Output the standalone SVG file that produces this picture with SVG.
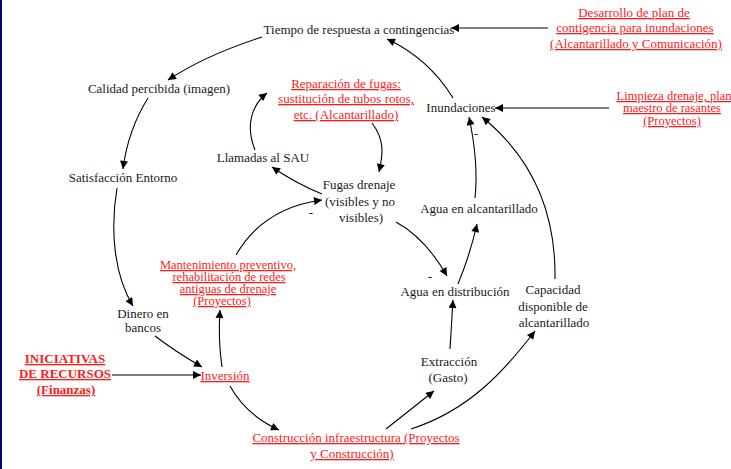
<svg xmlns="http://www.w3.org/2000/svg" width="731" height="469" viewBox="0 0 731 469">
<style>
text{font-family:"Liberation Serif","Times New Roman","DejaVu Serif",serif;font-size:13px;fill:#1a1a1a;text-anchor:middle}
.r{fill:#ff1a1a;text-decoration:underline}
.b{font-weight:bold}
.t{font-size:12.5px}
.c path{fill:none;stroke:#000;stroke-width:1.1;marker-end:url(#ah)}
</style>
<defs>
<marker id="ah" viewBox="0 0 10 10" refX="10" refY="5" markerWidth="12" markerHeight="8" markerUnits="userSpaceOnUse" orient="auto">
<path d="M0,0 L10,5 L0,10 z" fill="#000"/>
</marker>
</defs>
<rect x="0" y="0" width="731" height="469" fill="#fff"/>
<rect x="0" y="0" width="2" height="469" fill="#000080"/>
<g class="c">
<path d="M548,28 L451,28"/>
<path d="M262,37 C228,48 195,62 168,80"/>
<path d="M148,98 Q128,130 123,169"/>
<path d="M117,188 C110,230 114,275 133,306"/>
<path d="M155,336 Q176,352 202,367"/>
<path d="M112,375 L201,375"/>
<path d="M222,367 Q218,340 220,310"/>
<path d="M230,386 Q246,415 279,430"/>
<path d="M236,255 C255,222 285,205 322,200"/>
<path d="M322,194 Q295,183 272,167"/>
<path d="M255,150 C245,125 252,105 267,93"/>
<path d="M372,123 C385,140 383,155 379,172"/>
<path d="M396,222 C420,235 435,255 447,276"/>
<path d="M458,284 Q470,255 477,224"/>
<path d="M475,198 C478,170 475,145 469,117"/>
<path d="M609,108 L495,108"/>
<path d="M555,279 C556,215 535,160 482,117"/>
<path d="M453,98 C437,72 415,52 387,39"/>
<path d="M450,349 L453,300"/>
<path d="M386,429 Q410,410 434,391"/>
<path d="M411,429 C470,410 505,370 535,331"/>
</g>
<g id="n-tiempo"><text x="359" y="34">Tiempo de respuesta a contingencias</text></g>
<g id="n-desarrollo"><text class="r" x="634" y="17">Desarrollo de plan de</text><text class="r" x="635" y="32">contigencia para inundaciones</text><text class="r" x="636" y="48">(Alcantarillado y Comunicación)</text></g>
<g id="n-calidad"><text x="159" y="93">Calidad percibida (imagen)</text></g>
<g id="n-satisfaccion"><text x="123" y="182">Satisfacción Entorno</text></g>
<g id="n-dinero"><text x="143" y="318">Dinero en</text><text x="143" y="332">bancos</text></g>
<g id="n-iniciativas"><text class="r b" x="65" y="363">INICIATIVAS</text><text class="r b" x="65" y="378">DE RECURSOS</text><text class="r b" x="66" y="394">(Finanzas)</text></g>
<g id="n-inversion"><text class="r" x="225" y="380">Inversión</text></g>
<g id="n-mantenimiento"><text class="r t" x="228" y="269">Mantenimiento preventivo,</text><text class="r t" x="229" y="281">rehabilitación de redes</text><text class="r t" x="228" y="293">antiguas de drenaje</text><text class="r t" x="222" y="305">(Proyectos)</text></g>
<g id="n-llamadas"><text x="263" y="162">Llamadas al SAU</text></g>
<g id="n-reparacion"><text class="r" x="346" y="88">Reparación de fugas:</text><text class="r" x="346" y="103">sustitución de tubos rotos,</text><text class="r" x="346" y="119">etc. (Alcantarillado)</text></g>
<g id="n-fugas"><text x="359" y="189">Fugas drenaje</text><text x="360" y="206">(visibles y no</text><text x="361" y="222">visibles)</text></g>
<g id="n-inundaciones"><text x="461" y="112">Inundaciones</text></g>
<g id="n-limpieza"><text class="r t" x="674" y="100">Limpieza drenaje, plan</text><text class="r t" x="672" y="112">maestro de rasantes</text><text class="r t" x="672" y="125">(Proyectos)</text></g>
<g id="n-alcantarillado"><text x="479" y="213">Agua en alcantarillado</text></g>
<g id="n-distribucion"><text x="455" y="296">Agua en distribución</text></g>
<g id="n-capacidad"><text x="553" y="294">Capacidad</text><text x="553" y="311">disponible de</text><text x="554" y="327">alcantarillado</text></g>
<g id="n-extraccion"><text x="449" y="366">Extracción</text><text x="448" y="382">(Gasto)</text></g>
<g id="n-construccion"><text class="r" x="356" y="442">Construcción infraestructura (Proyectos</text><text class="r" x="352" y="458">y Construcción)</text></g>
<g id="signs"><text x="311" y="217">-</text><text x="430" y="281">-</text><text x="476" y="138">-</text></g>
</svg>
